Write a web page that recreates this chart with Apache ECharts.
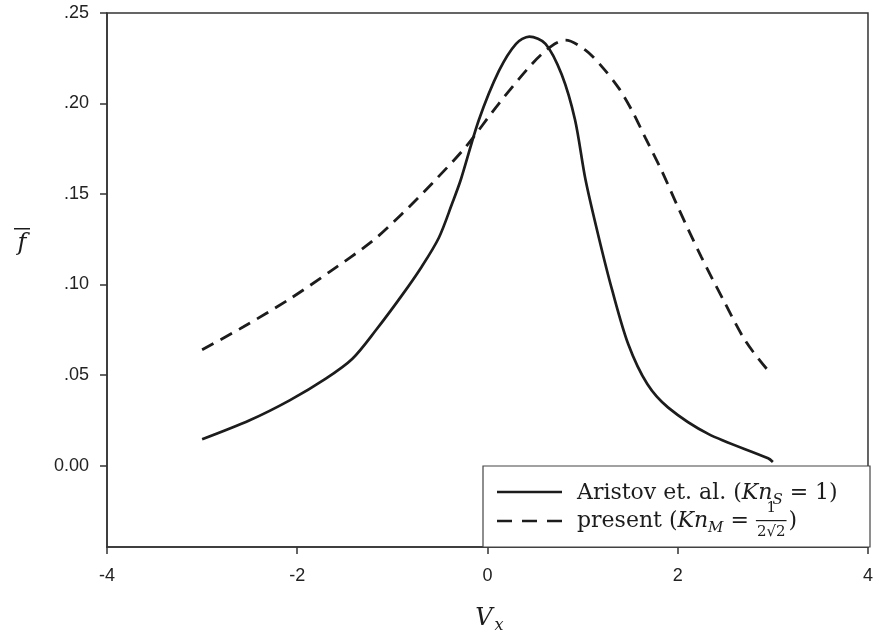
<!DOCTYPE html>
<html>
<head>
<meta charset="utf-8">
<script src="https://cdn.jsdelivr.net/npm/echarts@6/dist/echarts.min.js"></script>
<style>
  html, body { margin: 0; padding: 0; background: #fff; }
  #main { width: 876px; height: 637px; }
</style>
</head>
<body>
<div id="main"></div>
<script>
// Aristov et. al. (Kn_S = 1) as [Vx, f]
const aristov = [
  [-3.0, 0.0145], [-2.5, 0.025], [-2.08, 0.036], [-1.7, 0.048], [-1.42, 0.059],
  [-1.17, 0.075], [-0.9, 0.094], [-0.69, 0.11], [-0.51, 0.126], [-0.37, 0.145],
  [-0.28, 0.158], [-0.09, 0.191], [0.12, 0.218], [0.3, 0.233],
  [0.44, 0.237], [0.61, 0.233], [0.78, 0.216], [0.92, 0.191], [1.03, 0.158],
  [1.17, 0.126], [1.31, 0.097], [1.48, 0.067], [1.68, 0.045], [1.9, 0.032],
  [2.32, 0.0175], [2.95, 0.004], [3.0, 0.002]
];
// present (Kn_M = 1/(2*sqrt2))
const present = [
  [-3.0, 0.064], [-2.57, 0.0765], [-2.08, 0.092], [-1.66, 0.107], [-1.21, 0.124],
  [-0.9, 0.139], [-0.58, 0.156], [-0.23, 0.176], [0.12, 0.200], [0.47, 0.222],
  [0.68, 0.232], [0.82, 0.235], [1.03, 0.2295], [1.2, 0.2205], [1.38, 0.2085],
  [1.52, 0.196], [1.66, 0.181], [1.83, 0.163], [2.0, 0.143], [2.25, 0.115],
  [2.5, 0.0894], [2.71, 0.069], [2.95, 0.0525], [3.0, 0.051]
];
const yTickValues = [0, 0.05, 0.10, 0.15, 0.20, 0.25];
const yTickLabels = ["0.00", ".05", ".10", ".15", ".20", ".25"];

const ink = "#1c1c1c";
const axisColor = "#333";
const serif = "DejaVu Serif";

// measure text so the legend pieces line up
const mctx = document.createElement("canvas").getContext("2d");
function tw(t, size, italic) {
  mctx.font = (italic ? "italic " : "") + size + "px '" + serif + "'";
  return mctx.measureText(t).width;
}
function txt(t, x, y, size, italic, align) {
  return {
    type: "text",
    z: 101,
    style: {
      text: t, x: x, y: y,
      fontFamily: serif, fontSize: size,
      fontStyle: italic ? "italic" : "normal",
      fill: ink,
      align: align || "left",
      verticalAlign: "middle"
    }
  };
}
// pieces: [text, size, italic, dy]
function row(pieces, x0, y) {
  const els = [];
  let x = x0;
  pieces.forEach(p => {
    els.push(txt(p[0], x, y + (p[3] || 0), p[1], p[2]));
    x += tw(p[0], p[1], p[2]);
  });
  return { els: els, end: x };
}

const box = { x: 483, y: 466, w: 387, h: 81 };
const textX = 577;
const row1Y = 493, row2Y = 521;

const r1 = row([
  ["Aristov et. al. (", 22, false],
  ["Kn", 22, true],
  ["S", 15, true, 7],
  [" = 1)", 22, false]
], textX, row1Y);

const r2 = row([
  ["present (", 22, false],
  ["Kn", 22, true],
  ["M", 15, true, 7],
  [" = ", 22, false]
], textX, row2Y);

const fracW = tw("2\u221a2", 15, false) + 2;
const fx = r2.end;
const legendEls = [].concat(
  [{
    type: "rect", z: 100,
    shape: { x: box.x, y: box.y, width: box.w, height: box.h },
    style: { fill: "#fff", stroke: "#444", lineWidth: 1.2 }
  },
  {
    type: "line", z: 101,
    shape: { x1: 497, y1: 492, x2: 562, y2: 492 },
    style: { stroke: ink, lineWidth: 2.6 }
  },
  {
    type: "line", z: 101,
    shape: { x1: 497, y1: 521, x2: 562, y2: 521 },
    style: { stroke: ink, lineWidth: 2.6, lineDash: [15, 10] }
  }],
  r1.els, r2.els,
  [txt("1", fx + fracW / 2, 508, 15, false, "center"),
  {
    type: "rect", z: 101,
    shape: { x: fx, y: 520, width: fracW, height: 1.2 },
    style: { fill: ink }
  },
  txt("2\u221a2", fx + fracW / 2, 532, 15, false, "center"),
  txt(")", fx + fracW + 2, row2Y, 22, false)]
);

const axisNames = [
  txt("f", 22, 244, 24, true, "center"),
  { type: "rect", z: 101, shape: { x: 14, y: 228, width: 16, height: 1.5 }, style: { fill: ink } },
  txt("V", 484, 619, 24, true, "center"),
  txt("x", 499, 626, 16, true, "center")
];

const chart = echarts.init(document.getElementById("main"));
chart.setOption({
  animation: false,
  backgroundColor: "#fff",
  grid: {
    left: 107, right: 6, top: 13, bottom: 90,
    show: true, borderColor: axisColor, borderWidth: 1.5
  },
  xAxis: {
    type: "value",
    min: -4, max: 4, interval: 2,
    axisLine: { onZero: false, lineStyle: { color: axisColor, width: 1.5 } },
    axisTick: { length: 7, lineStyle: { color: axisColor, width: 1.5 } },
    axisLabel: { margin: 20, fontFamily: "Liberation Sans", fontSize: 18, color: "#222" },
    splitLine: { show: false }
  },
  yAxis: {
    type: "value",
    min: -0.045, max: 0.25,
    axisLine: { show: true, onZero: false, lineStyle: { color: axisColor, width: 1.5 } },
    axisTick: {
      show: true, length: 7, customValues: yTickValues,
      lineStyle: { color: axisColor, width: 1.5 }
    },
    axisLabel: {
      margin: 18, fontFamily: "Liberation Sans", fontSize: 18, color: "#222",
      customValues: yTickValues,
      formatter: v => {
        const i = yTickValues.findIndex(t => Math.abs(t - v) < 1e-9);
        return i >= 0 ? yTickLabels[i] : "";
      }
    },
    splitLine: { show: false }
  },
  series: [
    {
      name: "Aristov", type: "line", data: aristov,
      showSymbol: false, smooth: 0.3, silent: true,
      lineStyle: { color: ink, width: 2.7 }
    },
    {
      name: "present", type: "line", data: present,
      showSymbol: false, smooth: 0.3, silent: true,
      lineStyle: { color: ink, width: 2.8, type: [13, 8] }
    }
  ],
  graphic: legendEls.concat(axisNames)
});
</script>
</body>
</html>
